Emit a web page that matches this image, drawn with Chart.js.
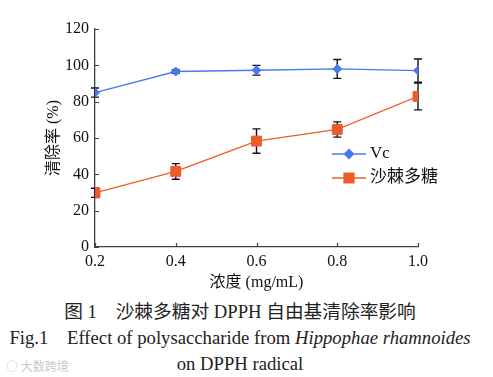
<!DOCTYPE html>
<html><head><meta charset="utf-8">
<script src="https://cdn.jsdelivr.net/npm/chart.js@4.4.0/dist/chart.umd.min.js"></script>
<style>
html,body{margin:0;padding:0;background:#fff;width:493px;height:377px;overflow:hidden;position:relative;}
#c{position:absolute;left:0;top:0;}
.cap{position:absolute;left:0;width:480px;text-align:center;font-family:"Liberation Serif","Noto Sans CJK SC",serif;font-size:18.7px;color:#222;white-space:pre;line-height:20px;}
.wm{position:absolute;left:6px;top:357px;font-family:"Noto Sans CJK SC",sans-serif;font-size:12px;color:#c8c8c8;}
</style></head>
<body>
<canvas id="c" width="493" height="295"></canvas>
<div class="cap" style="top:302px">图 1　沙棘多糖对 DPPH 自由基清除率影响</div>
<div class="cap" style="top:328px">Fig.1　Effect of polysaccharide from <i>Hippophae rhamnoides</i></div>
<div class="cap" style="top:354px">on DPPH radical</div>
<div class="wm">◌ 大数跨境</div>
<script>
const concentrations = [0.2, 0.4, 0.6, 0.8, 1.0];
const seriesNames = ['Vc', '沙棘多糖'];
const vcValues = [85.0, 96.6, 97.3, 98.0, 97.1];
const vcErrors = [2.5, 1.0, 2.7, 5.2, 6.4];
const polyValues = [29.8, 41.6, 58.3, 64.7, 82.9];
const polyErrors = [2.5, 4.3, 6.7, 4.2, 7.4];
const xAxisTitle = '浓度 (mg/mL)';
const yAxisTitle = '清除率 (%)';

const BLUE = '#4679F0';
const ORANGE = '#EE5B2A';
const AXIS = '#404040';
const FONT = '"Liberation Serif","Noto Sans CJK SC",serif';

function toXY(vals){ return concentrations.map((x,i)=>({x:x, y:vals[i]})); }

const errorBars = {
  id:'errorBars',
  beforeDatasetsDraw(chart){
    const ctx = chart.ctx, xs = chart.scales.x, ys = chart.scales.y;
    ctx.save();
    ctx.strokeStyle = '#111'; ctx.lineWidth = 1.4;
    chart.data.datasets.forEach(ds=>{
      ds.data.forEach((p,i)=>{
        const e = ds.errors[i];
        const px = xs.getPixelForValue(p.x);
        const y1 = ys.getPixelForValue(p.y + e), y2 = ys.getPixelForValue(p.y - e);
        ctx.beginPath();
        ctx.moveTo(px, y1); ctx.lineTo(px, y2);
        ctx.moveTo(px-4, y1); ctx.lineTo(px+4, y1);
        ctx.moveTo(px-4, y2); ctx.lineTo(px+4, y2);
        ctx.stroke();
      });
    });
    ctx.restore();
  }
};

const innerTicks = {
  id:'innerTicks',
  afterDraw(chart){
    const ctx = chart.ctx, xs = chart.scales.x, ys = chart.scales.y, a = chart.chartArea;
    ctx.save();
    ctx.strokeStyle = AXIS; ctx.lineWidth = 1.2;
    ctx.beginPath();
    xs.ticks.forEach(t=>{ const px = Math.round(xs.getPixelForValue(t.value))+0.5; ctx.moveTo(px, a.bottom); ctx.lineTo(px, a.bottom-4); });
    ys.ticks.forEach(t=>{ const py = Math.round(ys.getPixelForValue(t.value))+0.5; ctx.moveTo(a.left, py); ctx.lineTo(a.left+4, py); });
    ctx.stroke();
    ctx.restore();
  }
};

const customLegend = {
  id:'customLegend',
  afterDraw(chart){
    const ctx = chart.ctx;
    const x0 = 332, x1 = 366, rows = [154, 178];
    ctx.save();
    chart.data.datasets.forEach((ds,i)=>{
      const y = rows[i];
      ctx.strokeStyle = ds.borderColor; ctx.lineWidth = 1.3;
      ctx.beginPath(); ctx.moveTo(x0, y); ctx.lineTo(x1, y); ctx.stroke();
      ctx.fillStyle = ds.backgroundColor; ctx.strokeStyle = ds.borderColor;
      Chart.helpers.drawPoint(ctx, {pointStyle: ds.pointStyle, radius: ds.pointRadius, rotation:0, borderWidth:1}, (x0+x1)/2, y);
      ctx.fillStyle = '#111'; ctx.font = '17px ' + FONT; ctx.textBaseline = 'middle'; ctx.textAlign = 'left';
      ctx.fillText(ds.label, 370, y);
    });
    ctx.restore();
  }
};

new Chart(document.getElementById('c'), {
  type:'line',
  data:{
    datasets:[
      {label: seriesNames[0], data: toXY(vcValues), errors: vcErrors, borderColor: BLUE, backgroundColor: BLUE,
       pointStyle:'rectRot', pointRadius:4.5, pointBorderWidth:1, borderWidth:1.3, tension:0},
      {label: seriesNames[1], data: toXY(polyValues), errors: polyErrors, borderColor: ORANGE, backgroundColor: ORANGE,
       pointStyle:'rect', pointRadius:7, pointBorderWidth:1, borderWidth:1.3, tension:0}
    ]
  },
  options:{
    responsive:false, animation:false, devicePixelRatio:1,
    layout:{padding:{top:29, right:75, left:0, bottom:0}},
    plugins:{legend:{display:false}, tooltip:{enabled:false}},
    scales:{
      x:{type:'linear', min:0.2, max:1.0,
         afterFit(s){ s.height = 48; },
         afterBuildTicks(s){ s.ticks = concentrations.map(v=>({value:v})); },
         ticks:{callback:v=>Number(v).toFixed(1), color:'#111', font:{family:FONT, size:16}, padding:5, maxRotation:0},
         grid:{display:false, drawTicks:false}, border:{display:true, color:AXIS, width:1.3},
         title:{display:true, text:xAxisTitle, color:'#111', font:{family:FONT, size:16}, padding:{top:0,bottom:3}}},
      y:{min:0, max:120,
         afterFit(s){ s.width = 95; },
         ticks:{stepSize:20, color:'#111', font:{family:FONT, size:16}, padding:6},
         grid:{display:false, drawTicks:false}, border:{display:true, color:AXIS, width:1.3},
         title:{display:true, text:yAxisTitle, color:'#111', font:{family:FONT, size:16}, padding:{top:44, bottom:0}}}
    }
  },
  plugins:[errorBars, innerTicks, customLegend]
});
</script>
</body></html>
